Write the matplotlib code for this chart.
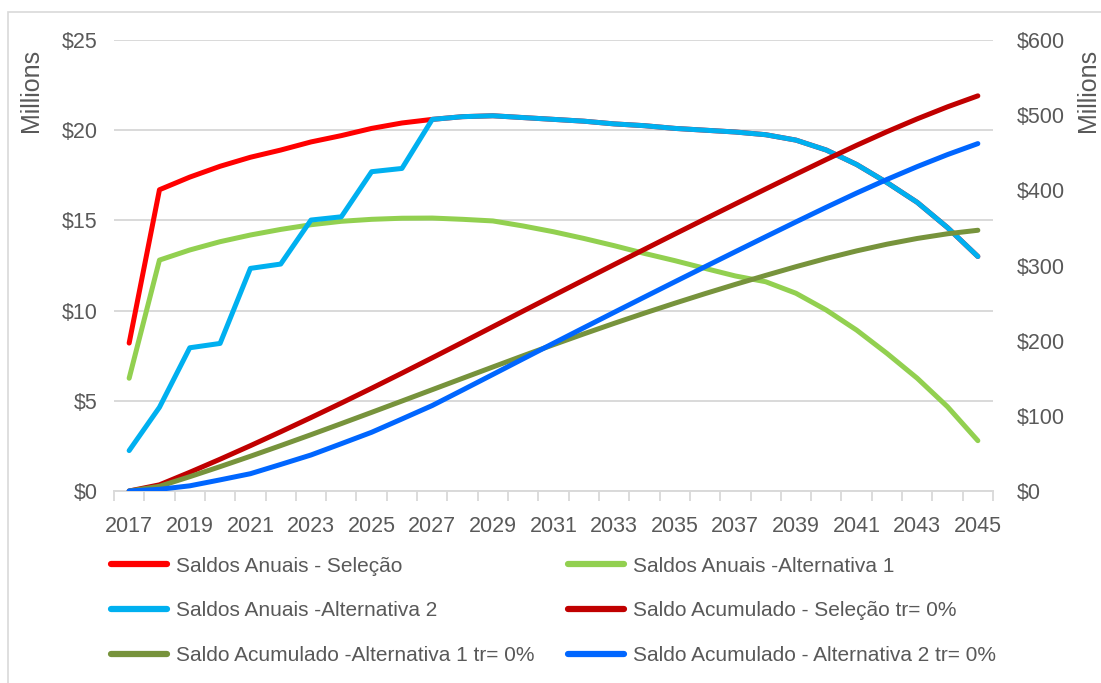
import matplotlib
matplotlib.use("Agg")
import matplotlib.pyplot as plt
from matplotlib.patches import Rectangle
from matplotlib.ticker import FixedLocator, FuncFormatter

plt.rcParams['font.family'] = ['Liberation Sans', 'DejaVu Sans']

years = list(range(2017, 2046))

# Left axis (annual balances, $ millions)
anual_selecao = [8.2, 16.7, 17.4, 18.0, 18.5, 18.9, 19.35, 19.7, 20.1, 20.4, 20.6,
                 20.75, 20.8, 20.7, 20.6, 20.5, 20.35, 20.25, 20.1, 20.0, 19.9,
                 19.75, 19.45, 18.9, 18.1, 17.1, 16.0, 14.6, 13.0]
anual_alt1 = [6.25, 12.8, 13.36, 13.82, 14.19, 14.5, 14.76, 14.95, 15.06, 15.12, 15.13,
              15.06, 14.97, 14.69, 14.37, 14.0, 13.6, 13.17, 12.77, 12.34, 11.92,
              11.6, 10.96, 10.03, 8.92, 7.63, 6.25, 4.67, 2.79]
anual_alt2 = [2.24, 4.64, 7.94, 8.18, 12.34, 12.58, 15.02, 15.2, 17.7, 17.88, 20.6,
              20.75, 20.8, 20.7, 20.6, 20.5, 20.35, 20.25, 20.1, 20.0, 19.9,
              19.75, 19.45, 18.9, 18.1, 17.1, 16.0, 14.6, 13.0]

# Right axis (accumulated balances, $ millions)
acum_selecao = [0, 8.2, 24.9, 42.3, 60.3, 78.8, 97.7, 117.0, 136.7, 156.8, 177.2,
                197.8, 218.6, 239.4, 260.1, 280.7, 301.2, 321.5, 341.8, 361.9, 381.9,
                401.8, 421.5, 441.0, 459.9, 478.0, 495.1, 511.1, 525.7]
acum_alt1 = [0, 6.25, 19.05, 32.41, 46.23, 60.42, 74.92, 89.68, 104.63, 119.69, 134.81,
             149.94, 165.0, 179.97, 194.66, 209.03, 223.03, 236.63, 249.8, 262.57, 274.91,
             286.83, 298.43, 309.39, 319.42, 328.34, 335.97, 342.22, 346.89]
acum_alt2 = [0, 2.24, 6.88, 14.82, 23.0, 35.34, 47.92, 62.94, 78.14, 95.84, 113.72,
             134.32, 155.07, 175.87, 196.57, 217.17, 237.67, 258.02, 278.27, 298.37, 318.37,
             338.27, 358.02, 377.47, 396.37, 414.47, 431.57, 447.57, 462.17]

labels = ["Saldos Anuais - Seleção", "Saldos Anuais -Alternativa 1",
          "Saldos Anuais -Alternativa 2", "Saldo Acumulado - Seleção tr= 0%",
          "Saldo Acumulado -Alternativa 1 tr= 0%", "Saldo Acumulado - Alternativa 2 tr= 0%"]
colors = ["#FF0000", "#92D050", "#00B0F0", "#C00000", "#77933C", "#0066FF"]

TXT = "#595959"
GRID = "#D9D9D9"
FS = 15.5

fig = plt.figure(figsize=(11.01, 6.83), dpi=100)
fig.patches.append(Rectangle((8/1101, -0.1), 1.2, 1.1 - 12/683, transform=fig.transFigure,
                             fill=False, edgecolor=GRID, linewidth=1.2))

ax = fig.add_axes([114/1101, 1 - 491/683, 879/1101, 451/683])
ax2 = ax.twinx()

x = list(range(len(years)))
lw = 3.6
style = dict(lw=lw, solid_capstyle='round', solid_joinstyle='round', zorder=3)
h = []
h += ax.plot(x, anual_selecao, color=colors[0], **style)
h += ax.plot(x, anual_alt1, color=colors[1], **style)
h += ax.plot(x, anual_alt2, color=colors[2], **style)
h += ax2.plot(x, acum_selecao, color=colors[3], **style)
h += ax2.plot(x, acum_alt1, color=colors[4], **style)
h += ax2.plot(x, acum_alt2, color=colors[5], **style)

ax.set_xlim(-0.5, len(years) - 0.5)
ax.set_ylim(0, 25)
ax2.set_ylim(0, 600)
ax.set_yticks([0, 5, 10, 15, 20, 25])
ax2.set_yticks([0, 100, 200, 300, 400, 500, 600])
ax.yaxis.set_major_formatter(FuncFormatter(lambda v, p: f"${v:.0f}"))
ax2.yaxis.set_major_formatter(FuncFormatter(lambda v, p: f"${v:.0f}"))

ax.set_xticks(x[::2])
ax.set_xticklabels([str(y) for y in years[::2]])
ax.xaxis.set_minor_locator(FixedLocator([i - 0.5 for i in range(len(years) + 1)]))
ax.tick_params(axis='x', which='major', length=0, pad=18, labelsize=FS, labelcolor=TXT)
ax.tick_params(axis='x', which='minor', length=7, width=1.3, color=GRID)
ax.tick_params(axis='y', length=0, pad=12, labelsize=FS, labelcolor=TXT)
ax2.tick_params(axis='y', length=0, pad=17, labelsize=FS, labelcolor=TXT)

ax.grid(axis='y', color=GRID, lw=1.4)
ax.set_axisbelow(True)
for a in (ax, ax2):
    for s in ('top', 'left', 'right'):
        a.spines[s].set_visible(False)
    a.spines['bottom'].set_color(GRID)
    a.spines['bottom'].set_linewidth(1.4)
ax2.spines['bottom'].set_visible(False)

fig.text(31/1101, 1 - 90/683, "Millions", rotation=90, ha='center', va='center', fontsize=18, color=TXT)
fig.text(1088/1101, 1 - 90/683, "Millions", rotation=90, ha='center', va='center', fontsize=18, color=TXT)

common = dict(frameon=False, fontsize=15, labelcolor=TXT, handlelength=2.7, handletextpad=0.4,
              labelspacing=1.24, borderpad=0, borderaxespad=0, loc='center left')
leg1 = fig.legend([h[0], h[2], h[4]], [labels[0], labels[2], labels[4]],
                  bbox_to_anchor=(111/1101, 1 - 611/683), **common)
leg2 = fig.legend([h[1], h[3], h[5]], [labels[1], labels[3], labels[5]],
                  bbox_to_anchor=(568/1101, 1 - 611/683), **common)
for lg in (leg1, leg2):
    for ln in lg.get_lines():
        ln.set_linewidth(4.5)

fig.savefig("out.png", dpi=100)
